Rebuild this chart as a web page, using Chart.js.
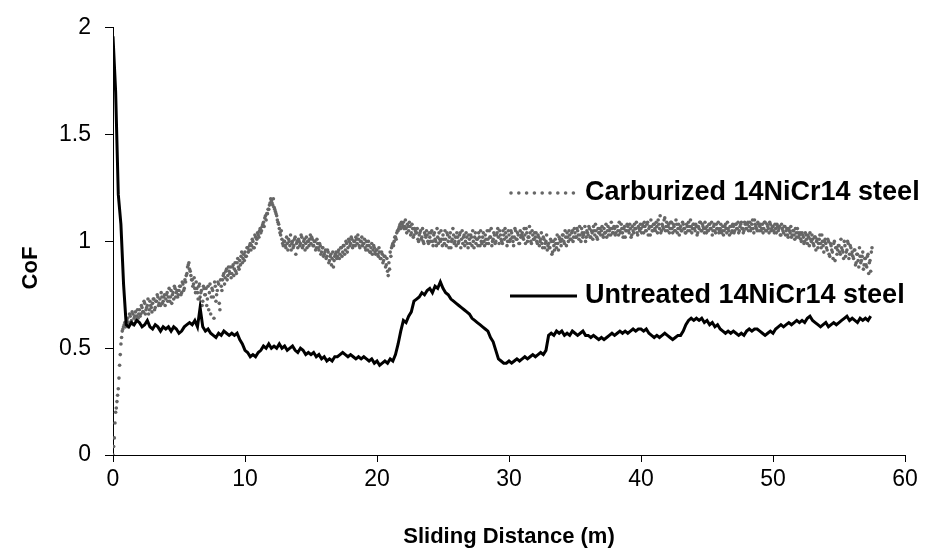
<!DOCTYPE html>
<html>
<head>
<meta charset="utf-8">
<script src="https://cdn.jsdelivr.net/npm/chart.js@4"></script>
<style>
  html, body { margin: 0; padding: 0; background: #fff; }
  #wrap { width: 936px; height: 551px; }
</style>
</head>
<body>
<div id="wrap"><canvas id="cof"></canvas></div>
<script>
// sample spacing of each recording (m)
const carbStep = 0.1;
const carbOffset = 0.05;   // second carburized read-out sits half a step later
const untrStep = 0.2;

const seriesLabels = ['Carburized 14NiCr14 steel', 'Untreated 14NiCr14 steel'];

// Carburized: CoF at 0.0, 0.1, 0.2 ... m, one row per metre
const carburized = [
  0.00, 0.08, 0.20, 0.25, 0.31, 0.42, 0.52, 0.58, 0.60, 0.62,
  0.61, 0.64, 0.62, 0.65, 0.63, 0.66, 0.64, 0.67, 0.65, 0.64,
  0.68, 0.66, 0.69, 0.67, 0.71, 0.68, 0.70, 0.66, 0.72, 0.69,
  0.71, 0.73, 0.69, 0.72, 0.74, 0.71, 0.70, 0.74, 0.72, 0.75,
  0.73, 0.76, 0.74, 0.72, 0.77, 0.75, 0.73, 0.78, 0.76, 0.74,
  0.77, 0.79, 0.76, 0.80, 0.78, 0.81, 0.85, 0.89, 0.87, 0.84,
  0.82, 0.80, 0.78, 0.81, 0.76, 0.79, 0.74, 0.77, 0.72, 0.78,
  0.75, 0.70, 0.79, 0.76, 0.66, 0.78, 0.74, 0.81, 0.72, 0.77,
  0.80, 0.68, 0.79, 0.82, 0.85, 0.83, 0.87, 0.84, 0.86, 0.88,
  0.85, 0.89, 0.87, 0.86, 0.90, 0.88, 0.91, 0.93, 0.90, 0.94,
  0.95, 0.93, 0.97, 0.96, 0.99, 0.98, 1.00, 0.97, 1.02, 1.01,
  1.03, 1.05, 1.04, 1.07, 1.09, 1.11, 1.10, 1.13, 1.15, 1.18,
  1.19, 1.17, 1.16, 1.14, 1.12, 1.09, 1.06, 1.03, 1.01, 0.98,
  1.00, 0.97, 0.99, 1.01, 0.98, 0.96, 1.00, 0.98, 1.02, 0.99,
  0.97, 1.00, 0.99, 1.02, 0.98, 1.01, 0.99, 0.97, 1.00, 1.01,
  0.99, 1.01, 0.98, 1.00, 0.97, 0.99, 0.96, 0.98, 0.95, 0.97,
  0.94, 0.96, 0.93, 0.95, 0.91, 0.94, 0.92, 0.88, 0.93, 0.95,
  0.93, 0.96, 0.94, 0.97, 0.95, 0.98, 0.96, 0.99, 0.97, 1.00,
  0.99, 1.01, 0.98, 1.00, 1.02, 0.99, 1.01, 0.97, 1.00, 0.98,
  0.99, 0.97, 1.00, 0.96, 0.98, 0.95, 0.99, 0.96, 0.97, 0.94,
  0.96, 0.93, 0.95, 0.92, 0.94, 0.91, 0.93, 0.89, 0.86, 0.90,
  0.95, 0.97, 0.99, 1.00, 1.02, 1.04, 1.05, 1.07, 1.06, 1.08,
  1.09, 1.07, 1.06, 1.08, 1.05, 1.07, 1.04, 1.06, 1.03, 1.05,
  1.04, 1.01, 1.03, 1.05, 1.02, 1.00, 1.04, 1.02, 1.03, 0.99,
  1.02, 1.04, 1.00, 1.03, 1.01, 0.98, 1.02, 1.04, 1.00, 1.01,
  1.03, 0.99, 1.01, 1.04, 1.00, 1.02, 0.97, 1.01, 1.03, 1.00,
  0.98, 1.02, 1.00, 1.04, 1.01, 0.99, 1.03, 1.00, 1.02, 0.97,
  1.01, 1.03, 0.98, 1.00, 1.02, 0.99, 1.01, 1.04, 0.98, 1.00,
  1.02, 1.00, 1.03, 0.99, 1.01, 1.05, 1.02, 0.98, 1.01, 1.03,
  1.00, 1.04, 1.02, 1.05, 1.01, 0.99, 1.03, 1.06, 1.02, 1.00,
  1.03, 1.01, 1.04, 1.00, 1.02, 1.05, 1.01, 1.03, 0.99, 1.02,
  1.04, 1.01, 1.03, 1.06, 1.00, 1.02, 1.04, 0.99, 1.03, 1.01,
  1.02, 1.00, 1.03, 0.98, 1.01, 0.99, 1.02, 0.97, 1.00, 0.96,
  0.99, 0.97, 1.00, 0.95, 0.98, 1.01, 0.97, 0.99, 1.02, 1.00,
  1.01, 1.03, 0.99, 1.02, 1.04, 1.00, 1.03, 1.01, 1.05, 1.02,
  1.04, 1.02, 1.05, 1.01, 1.03, 1.06, 1.02, 1.04, 1.00, 1.05,
  1.03, 1.06, 1.02, 1.04, 1.07, 1.03, 1.05, 1.01, 1.04, 1.06,
  1.05, 1.03, 1.06, 1.04, 1.02, 1.07, 1.05, 1.03, 1.06, 1.04,
  1.06, 1.04, 1.07, 1.03, 1.05, 1.08, 1.04, 1.06, 1.02, 1.05,
  1.07, 1.04, 1.06, 1.03, 1.05, 1.08, 1.06, 1.04, 1.07, 1.05,
  1.06, 1.08, 1.04, 1.07, 1.05, 1.09, 1.06, 1.03, 1.07, 1.05,
  1.08, 1.05, 1.07, 1.10, 1.06, 1.04, 1.08, 1.06, 1.11, 1.07,
  1.05, 1.08, 1.06, 1.09, 1.04, 1.07, 1.05, 1.08, 1.06, 1.03,
  1.07, 1.05, 1.08, 1.06, 1.04, 1.07, 1.09, 1.05, 1.07, 1.06,
  1.08, 1.05, 1.07, 1.04, 1.06, 1.09, 1.05, 1.07, 1.04, 1.06,
  1.07, 1.05, 1.08, 1.06, 1.03, 1.07, 1.05, 1.08, 1.06, 1.04,
  1.06, 1.04, 1.07, 1.05, 1.08, 1.04, 1.06, 1.03, 1.07, 1.05,
  1.07, 1.05, 1.08, 1.06, 1.04, 1.07, 1.09, 1.06, 1.05, 1.08,
  1.06, 1.09, 1.07, 1.05, 1.08, 1.06, 1.10, 1.07, 1.05, 1.08,
  1.07, 1.05, 1.08, 1.06, 1.09, 1.05, 1.07, 1.04, 1.08, 1.06,
  1.07, 1.04, 1.06, 1.08, 1.05, 1.07, 1.03, 1.06, 1.04, 1.07,
  1.05, 1.03, 1.06, 1.04, 1.02, 1.05, 1.03, 1.06, 1.02, 1.04,
  1.03, 1.01, 1.04, 1.02, 1.00, 1.03, 0.99, 1.02, 1.04, 1.00,
  1.01, 0.98, 1.02, 1.00, 0.97, 1.01, 0.99, 1.03, 0.98, 1.00,
  0.99, 0.96, 1.00, 0.93, 0.98, 0.95, 0.99, 0.91, 0.97, 0.96,
  0.98, 0.94, 0.97, 0.95, 1.00, 0.93, 0.96, 0.99, 0.94, 0.97,
  0.95, 0.92, 0.96, 0.90, 0.94, 0.88, 0.93, 0.91, 0.95, 0.89,
  0.92, 0.88, 0.94, 0.90, 0.86, 0.97
];

// Carburized: CoF at 0.05, 0.15, 0.25 ... m, one row per metre
const carburizedMid = [
  0.04, 0.15, 0.22, 0.28, 0.36, 0.47, 0.55, 0.59, 0.61, 0.60,
  0.63, 0.60, 0.66, 0.62, 0.67, 0.61, 0.65, 0.63, 0.68, 0.66,
  0.65, 0.70, 0.67, 0.72, 0.66, 0.69, 0.73, 0.68, 0.70, 0.67,
  0.73, 0.68, 0.72, 0.75, 0.70, 0.73, 0.76, 0.71, 0.74, 0.70,
  0.75, 0.72, 0.78, 0.74, 0.71, 0.76, 0.79, 0.74, 0.77, 0.75,
  0.79, 0.75, 0.81, 0.77, 0.82, 0.84, 0.88, 0.90, 0.86, 0.82,
  0.79, 0.83, 0.76, 0.78, 0.73, 0.80, 0.76, 0.70, 0.79, 0.75,
  0.78, 0.73, 0.68, 0.80, 0.74, 0.77, 0.64, 0.79, 0.75, 0.81,
  0.71, 0.82, 0.77, 0.84, 0.80, 0.86, 0.82, 0.88, 0.85, 0.83,
  0.88, 0.84, 0.90, 0.85, 0.92, 0.87, 0.89, 0.95, 0.92, 0.91,
  0.93, 0.97, 0.95, 0.98, 0.96, 1.01, 0.97, 1.03, 0.99, 1.04,
  1.02, 1.06, 1.05, 1.08, 1.07, 1.12, 1.13, 1.15, 1.17, 1.20,
  1.18, 1.20, 1.15, 1.13, 1.10, 1.08, 1.04, 1.05, 0.99, 1.00,
  0.98, 1.02, 0.96, 1.00, 1.03, 0.99, 0.97, 1.01, 0.94, 1.00,
  1.01, 0.98, 1.03, 0.97, 1.00, 0.96, 1.02, 1.00, 0.98, 1.03,
  1.02, 0.98, 1.00, 0.96, 1.01, 0.97, 0.99, 0.94, 0.97, 0.93,
  0.95, 0.92, 0.96, 0.90, 0.93, 0.89, 0.95, 0.91, 0.94, 0.92,
  0.95, 0.92, 0.97, 0.93, 0.98, 0.94, 1.00, 0.95, 1.01, 0.98,
  1.02, 0.97, 1.00, 0.98, 1.01, 1.03, 0.98, 1.00, 1.02, 0.99,
  1.01, 0.96, 0.98, 1.00, 0.95, 0.97, 0.94, 0.98, 0.95, 0.96,
  0.94, 0.97, 0.92, 0.95, 0.90, 0.93, 0.88, 0.92, 0.84, 0.87,
  0.93, 0.98, 0.98, 1.02, 1.01, 1.05, 1.06, 1.08, 1.09, 1.07,
  1.06, 1.10, 1.04, 1.07, 1.09, 1.03, 1.08, 1.02, 1.06, 1.04,
  1.06, 1.00, 1.04, 1.01, 1.06, 0.99, 1.03, 1.05, 1.00, 1.04,
  1.00, 1.05, 0.98, 1.04, 1.00, 1.06, 0.99, 1.01, 1.05, 0.98,
  1.01, 1.05, 0.98, 1.03, 0.97, 1.04, 1.00, 1.06, 0.99, 1.02,
  1.04, 0.99, 1.03, 0.97, 1.05, 1.02, 0.98, 1.04, 0.99, 1.03,
  0.99, 1.02, 1.05, 0.97, 1.04, 1.01, 0.98, 1.02, 1.05, 0.99,
  1.04, 0.98, 1.01, 1.05, 0.99, 1.02, 1.06, 1.00, 1.04, 0.99,
  1.03, 1.06, 0.99, 1.03, 1.00, 1.05, 1.01, 1.04, 0.98, 1.05,
  1.00, 1.05, 1.02, 0.98, 1.06, 1.01, 1.04, 0.99, 1.05, 1.03,
  1.02, 1.06, 0.99, 1.04, 1.02, 1.07, 1.00, 1.05, 1.01, 1.04,
  1.04, 0.99, 1.02, 1.00, 1.04, 0.97, 1.01, 0.99, 1.03, 0.98,
  0.97, 1.01, 0.94, 1.00, 0.96, 0.99, 1.03, 0.96, 1.01, 0.98,
  1.03, 1.00, 1.05, 0.98, 1.02, 1.05, 1.01, 1.04, 1.00, 1.06,
  1.02, 1.06, 1.03, 1.07, 1.00, 1.04, 1.03, 1.07, 1.02, 1.04,
  1.07, 1.02, 1.05, 1.01, 1.05, 1.08, 1.02, 1.06, 1.04, 1.03,
  1.07, 1.02, 1.04, 1.08, 1.05, 1.03, 1.06, 1.09, 1.04, 1.07,
  1.03, 1.07, 1.05, 1.09, 1.04, 1.06, 1.02, 1.07, 1.05, 1.08,
  1.05, 1.08, 1.02, 1.07, 1.04, 1.06, 1.09, 1.03, 1.06, 1.08,
  1.04, 1.07, 1.09, 1.05, 1.08, 1.03, 1.07, 1.10, 1.05, 1.08,
  1.06, 1.09, 1.04, 1.08, 1.12, 1.05, 1.07, 1.10, 1.05, 1.09,
  1.07, 1.04, 1.09, 1.06, 1.08, 1.05, 1.10, 1.04, 1.08, 1.06,
  1.05, 1.09, 1.06, 1.04, 1.08, 1.05, 1.07, 1.10, 1.04, 1.08,
  1.06, 1.08, 1.03, 1.07, 1.09, 1.05, 1.08, 1.06, 1.09, 1.04,
  1.05, 1.08, 1.06, 1.09, 1.05, 1.08, 1.04, 1.06, 1.09, 1.05,
  1.08, 1.05, 1.03, 1.07, 1.06, 1.09, 1.05, 1.07, 1.04, 1.08,
  1.04, 1.08, 1.06, 1.09, 1.05, 1.08, 1.06, 1.04, 1.09, 1.06,
  1.08, 1.05, 1.09, 1.06, 1.10, 1.04, 1.08, 1.06, 1.09, 1.05,
  1.08, 1.06, 1.04, 1.09, 1.05, 1.08, 1.06, 1.09, 1.05, 1.07,
  1.05, 1.08, 1.04, 1.07, 1.06, 1.03, 1.08, 1.05, 1.07, 1.03,
  1.06, 1.02, 1.05, 1.07, 1.03, 1.05, 1.01, 1.04, 1.06, 1.02,
  1.04, 1.00, 1.03, 0.99, 1.04, 1.01, 1.03, 0.98, 1.01, 1.03,
  0.99, 1.02, 0.96, 1.01, 0.99, 1.03, 0.97, 1.00, 0.95, 1.01,
  0.97, 1.01, 0.94, 0.99, 0.96, 0.92, 1.00, 0.97, 0.94, 0.98,
  0.95, 1.01, 0.96, 0.92, 0.98, 0.95, 1.00, 0.92, 0.98, 0.94,
  0.93, 0.96, 0.89, 0.94, 0.91, 0.97, 0.90, 0.93, 0.87, 0.92,
  0.89, 0.93, 0.85, 0.91, 0.95
];

// Untreated: CoF every 0.2 m, one row per metre
const untreated = [
  1.96, 1.70, 1.22, 1.08, 0.80,
  0.61, 0.60, 0.62, 0.61, 0.63,
  0.62, 0.60, 0.61, 0.63, 0.60,
  0.59, 0.61, 0.60, 0.58, 0.60,
  0.59, 0.60, 0.58, 0.60, 0.59,
  0.57, 0.58, 0.60, 0.61, 0.62,
  0.61, 0.63, 0.60, 0.69, 0.60,
  0.58, 0.59, 0.57, 0.56, 0.55,
  0.57, 0.56, 0.58, 0.57, 0.56,
  0.57, 0.56, 0.57, 0.54, 0.52,
  0.49, 0.48, 0.46, 0.47, 0.46,
  0.48, 0.49, 0.51, 0.50, 0.52,
  0.50, 0.51, 0.50, 0.52, 0.50,
  0.51, 0.49, 0.50, 0.51, 0.49,
  0.48, 0.50, 0.49, 0.47, 0.48,
  0.47, 0.48, 0.46, 0.47, 0.45,
  0.46, 0.44, 0.45, 0.44, 0.46,
  0.46, 0.47, 0.48, 0.47, 0.46,
  0.47, 0.46, 0.45, 0.46, 0.45,
  0.46, 0.45, 0.44, 0.45, 0.43,
  0.44, 0.42, 0.43, 0.44, 0.43,
  0.45, 0.44, 0.47, 0.52, 0.58,
  0.63, 0.62, 0.65, 0.67, 0.72,
  0.73, 0.74, 0.76, 0.75, 0.77,
  0.78, 0.76, 0.79, 0.78, 0.81,
  0.78, 0.76, 0.75, 0.73, 0.72,
  0.71, 0.70, 0.69, 0.68, 0.67,
  0.66, 0.64, 0.63, 0.62, 0.61,
  0.60, 0.59, 0.58, 0.55, 0.53,
  0.49, 0.45, 0.44, 0.43, 0.43,
  0.44, 0.43, 0.44, 0.45, 0.44,
  0.45, 0.46, 0.45, 0.46, 0.47,
  0.46, 0.47, 0.48, 0.47, 0.49,
  0.56, 0.57, 0.56, 0.58, 0.57,
  0.58, 0.56, 0.57, 0.56, 0.58,
  0.57, 0.56, 0.57, 0.58, 0.56,
  0.56, 0.55, 0.56, 0.55, 0.54,
  0.55, 0.54, 0.55, 0.56, 0.57,
  0.56, 0.57, 0.58, 0.57, 0.58,
  0.57, 0.58, 0.59, 0.58, 0.59,
  0.59, 0.58, 0.59, 0.57, 0.56,
  0.55, 0.56, 0.55, 0.56, 0.57,
  0.56, 0.55, 0.54, 0.55, 0.56,
  0.56, 0.58, 0.61, 0.63, 0.64,
  0.63, 0.64, 0.63, 0.64, 0.62,
  0.63, 0.61, 0.62, 0.60, 0.61,
  0.59, 0.58, 0.57, 0.58, 0.57,
  0.58, 0.57, 0.56, 0.57, 0.56,
  0.58, 0.59, 0.58, 0.59, 0.59,
  0.58, 0.57, 0.56, 0.57, 0.58,
  0.57, 0.59, 0.60, 0.61, 0.60,
  0.61, 0.62, 0.61, 0.62, 0.63,
  0.62, 0.63, 0.62, 0.64, 0.65,
  0.63, 0.62, 0.61, 0.60, 0.61,
  0.62, 0.60, 0.61, 0.62, 0.61,
  0.62, 0.63, 0.64, 0.65, 0.63,
  0.64, 0.63, 0.62, 0.64, 0.63,
  0.64, 0.63, 0.65
];

const xMin = 0, xMax = 60, xStep = 10;
const yMin = 0, yMax = 2, yStep = 0.5;
const xTitle = 'Sliding Distance (m)';
const yTitle = 'CoF';

const toPoints = (vals, step, start) => vals.map((v, i) => ({ x: +(start + i * step).toFixed(2), y: v }));

const font = "'Liberation Sans', Arial, sans-serif";
const dotColor = '#666666';

// legend drawn inside the plot, right of the curves; y title drawn by hand
const legendPlugin = {
  id: 'insideLegend',
  afterDraw(chart) {
    const ctx = chart.ctx;
    const rows = [
      { ds: chart.data.datasets[0], y: 193 },
      { ds: chart.data.datasets[1], y: 296 }
    ];
    ctx.save();
    rows.forEach(r => {
      if (r.ds.showLine === false) {
        ctx.fillStyle = dotColor;
        for (let k = 0; k < 9; k++) {
          ctx.beginPath();
          ctx.arc(511 + k * 7.8, r.y, 1.8, 0, Math.PI * 2);
          ctx.fill();
        }
      } else {
        ctx.strokeStyle = r.ds.borderColor;
        ctx.lineWidth = r.ds.borderWidth;
        ctx.beginPath();
        ctx.moveTo(510, r.y);
        ctx.lineTo(577, r.y);
        ctx.stroke();
      }
      ctx.fillStyle = '#000';
      ctx.font = 'bold 27px ' + font;
      ctx.textBaseline = 'middle';
      ctx.textAlign = 'left';
      ctx.fillText(r.ds.label, 585, r.y);
    });
    ctx.translate(31, 268);
    ctx.rotate(-Math.PI / 2);
    ctx.font = 'bold 22px ' + font;
    ctx.textAlign = 'center';
    ctx.fillText(yTitle, 0, 0);
    ctx.restore();
  }
};

new Chart(document.getElementById('cof'), {
  type: 'scatter',
  data: {
    datasets: [
      {
        label: seriesLabels[0],
        data: toPoints(carburized, carbStep, 0).concat(toPoints(carburizedMid, carbStep, carbOffset)),
        showLine: false,
        pointRadius: 1.8,
        pointBorderWidth: 0,
        pointBackgroundColor: dotColor,
        order: 1
      },
      {
        label: seriesLabels[1],
        data: toPoints(untreated, untrStep, 0),
        showLine: true,
        borderColor: '#000',
        borderWidth: 3,
        pointRadius: 0,
        tension: 0,
        order: 0
      }
    ]
  },
  options: {
    responsive: true,
    maintainAspectRatio: false,
    animation: false,
    layout: { padding: { top: 22, right: 31, left: 0, bottom: 0 } },
    plugins: { legend: { display: false }, tooltip: { enabled: false } },
    scales: {
      x: {
        type: 'linear',
        min: xMin, max: xMax,
        afterFit: s => { s.height = 96; },
        border: { display: true, color: '#000', width: 1 },
        grid: { drawOnChartArea: false, drawTicks: true, tickLength: 7, color: '#000' },
        ticks: { stepSize: xStep, color: '#000', padding: 4, font: { family: font, size: 23 } },
        title: { display: true, text: xTitle, color: '#000', padding: { top: 0, bottom: 1 },
                 font: { family: font, size: 22, weight: 'bold' } }
      },
      y: {
        min: yMin, max: yMax,
        afterFit: s => { s.width = 113; },
        border: { display: true, color: '#000', width: 1 },
        grid: { drawOnChartArea: false, drawTicks: true, tickLength: 8, color: '#000' },
        ticks: { stepSize: yStep, color: '#000', padding: 14, font: { family: font, size: 23 },
                 callback: v => String(v) }
      }
    }
  },
  plugins: [legendPlugin]
});
</script>
</body>
</html>
